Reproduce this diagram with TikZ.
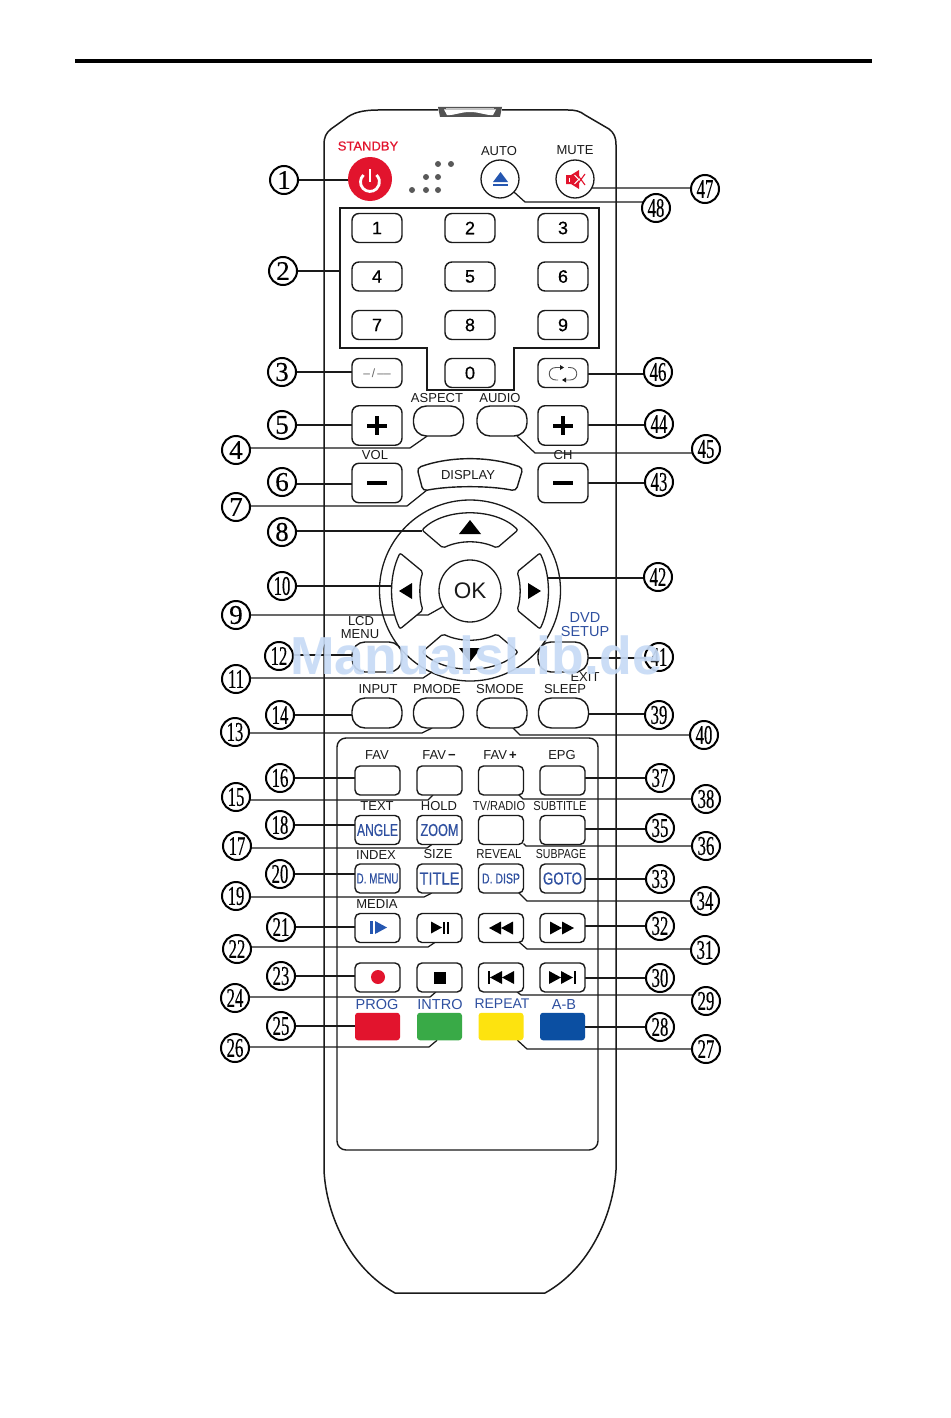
\documentclass[tikz,border=0pt]{standalone}
\usepackage{graphicx}
\usepackage{fontspec}
\setmainfont{Liberation Sans}
\newfontfamily\numf[FakeBold=0.35]{Liberation Serif}
\newfontfamily\semib[FakeBold=0.5]{Liberation Sans}
\usetikzlibrary{calc}
\pgfdeclarelayer{bg}
\pgfsetlayers{bg,main}
\definecolor{ink}{HTML}{1A1A1A}
\definecolor{tblue}{HTML}{2F50A0}
\definecolor{iblue}{HTML}{2456B0}
\definecolor{sred}{HTML}{E2142D}
\definecolor{wm}{HTML}{C7DBF6}
\tikzset{
  numc/.style={circle,draw=black,line width=2pt,fill=white,minimum size=28pt,inner sep=0pt,outer sep=0pt},
  lab/.style={inner sep=0pt,outer sep=0pt,text=ink,font=\fontsize{13}{13}\selectfont},
  bluelab/.style={lab,text=tblue,font=\fontsize{14.5}{15}\selectfont},
  key/.style={rectangle,draw=ink,line width=1.4pt,fill=white,rounded corners=7pt,minimum width=50pt,minimum height=29pt,inner sep=0pt,outer sep=0pt,font=\semib\fontsize{18}{18}\selectfont},
  bigkey/.style={key,minimum height=39.5pt},
  pill/.style={key,rounded corners=13pt,minimum height=30pt},
  gkey/.style={key,minimum width=45pt,minimum height=29pt,rounded corners=5pt},
  ckey/.style={rectangle,rounded corners=3pt,minimum width=45pt,minimum height=27.5pt,inner sep=0pt,outer sep=0pt},
  round/.style={circle,draw=ink,line width=1.3pt,fill=white,minimum size=38pt,inner sep=0pt,outer sep=0pt},
  conn/.style={line width=1.25pt,draw=ink},
  hull/.style={line width=1.5pt,draw=ink},
}
\newcount\lc
\newcommand\lbl[4][]{\global\advance\lc by 1\node[lab,#1] (t\the\lc) at (#2,#3) {#4};}
\newcommand\blbl[4][]{\global\advance\lc by 1\node[bluelab,#1] (t\the\lc) at (#2,#3) {#4};}
\newcommand\numc[3]{\node[numc] (n#1) at (#2,#3) {\numf\fontsize{27}{27}\selectfont\ifnum#1<10 #1\else\scalebox{0.62}[1]{#1}\fi};}
\newcommand\fitb[3]{\resizebox{#1pt}{#2pt}{#3}}
\newcommand\hl[3]{\draw[conn] (n#1 |- 0,#3) -- (#2 |- 0,#3);}
\newcommand\el[5]{\draw[conn] (n#1 |- 0,#3) -- (#2,#3) -- (#4);}
\begin{document}
\begin{tikzpicture}[x=1pt,y=-1pt]
\useasboundingbox (0,0) rectangle (950,1418);
\begin{pgfonlayer}{bg}
\fill[white] (0,0) rectangle (950,1418);
\end{pgfonlayer}
\coordinate (ruleL) at (75,61);
\coordinate (ruleR) at (872,61);
\draw[line width=3.4pt,black] (ruleL) -- (ruleR);

% body
\draw[hull] (438,110) -- (378,110) .. controls (362,110) and (352,113) .. (345,119) -- (331,129) .. controls (326,133) and (324,137) .. (324,145)
  -- (324,1170) .. controls (326,1215) and (350,1268) .. (395,1293) -- (545,1293) .. controls (590,1268) and (613,1215) .. (616,1170)
  -- (616,145) .. controls (616,137) and (614,133) .. (609,129) -- (585,115) .. controls (580,111) and (575,110) .. (568,110) -- (502,110);
\fill[gray!65!black] (438,107) -- (502,107) -- (500,117) -- (440,117) -- cycle;
\fill[white] (444,109.5) -- (496,109.5) -- (493,115) .. controls (485,115.5) and (480,112) .. (470,112) .. controls (460,112) and (455,115.5) .. (447,115) -- cycle;
\fill[gray!45] (446,107.6) rectangle (494,108.8);

% keypad panel
\draw[hull] (340,208) -- (599,208) -- (599,348) -- (514,348) -- (514,390) -- (427,390) -- (427,348) -- (340,348) -- cycle;
\coordinate (panL) at (340,271);
% lower panel
\node[draw=ink,line width=1.4pt,rounded corners=9pt,minimum width=261pt,minimum height=412pt,inner sep=0pt,outer sep=0pt] (panB) at (467.5,944) {};

% dots
\foreach \x/\y in {438/164,451/164,426/177,438/177,412/190,426/190,438/190}{\fill[gray!70!black] (\x,\y) circle (3);}

% top row
\lbl[text=sred,font=\semib\fontsize{13}{13}\selectfont]{368}{146}{STANDBY}
\node[circle,fill=sred,minimum size=44pt,inner sep=0pt,outer sep=0pt] (b1) at (370,179) {};
\draw[white,line width=2.8pt] (363.5,175) arc[start angle=227,end angle=-47,radius=9.5];
\draw[white,line width=2.8pt] (370,169) -- (370,182);
\lbl{499}{151}{AUTO}
\node[round] (b48) at (500,179) {};
\fill[iblue] (493,182) -- (500.5,172) -- (508,182) -- cycle;
\fill[iblue] (493,183.5) rectangle (508,185.5);
\lbl{575}{150}{MUTE}
\node[round] (b47) at (575,179) {};
\fill[sred] (566,175) -- (571,175) -- (579,170) -- (579,189) -- (571,184) -- (566,184) -- cycle;
\draw[white,line width=1pt] (569,177.5) -- (569,181.5);
\draw[white,line width=1pt] (574.5,175) -- (583,184);
\draw[white,line width=1pt] (574.5,184) -- (583,175);
\draw[sred,line width=1.1pt] (577,174) -- (585,185);
\draw[sred,line width=1.1pt] (577,185) -- (585,174);

% number keys
\node[key] (k1) at (377,228) {1};
\node[key] (k2) at (470,228) {2};
\node[key] (k3) at (563,228) {3};
\node[key] (k4) at (377,276.5) {4};
\node[key] (k5) at (470,276.5) {5};
\node[key] (k6) at (563,276.5) {6};
\node[key] (k7) at (377,325) {7};
\node[key] (k8) at (470,325) {8};
\node[key] (k9) at (563,325) {9};
\node[key] (k0) at (470,373) {0};
\node[key,text=gray!80!black,font=\fontsize{12}{12}\selectfont] (b3) at (377,373) {–\,/\,––};
\node[key] (b46) at (563,373) {};
\draw[gray!70!black,line width=.9pt] (560,367.5) -- (556,367.5) .. controls (547,367.5) and (547,380) .. (556,380) -- (558,380);
\draw[gray!70!black,line width=.9pt] (566,380) -- (570,380) .. controls (579,380) and (579,367.5) .. (570,367.5) -- (568,367.5);
\fill[ink] (564,367.5) -- (560,365) -- (560,370) -- cycle;
\fill[ink] (562,380) -- (566,377.5) -- (566,382.5) -- cycle;

% volume, channel and middle keys
\lbl{437}{398}{ASPECT}
\lbl{500}{398}{AUDIO}
\node[bigkey] (b5) at (377,425.5) {};
\node[bigkey] (b44) at (563,425.5) {};
\node[pill] (b4) at (438.5,421) {};
\node[pill] (b45) at (502,421) {};
\node[bigkey] (b6) at (377,483) {};
\node[bigkey] (b43) at (563,483) {};
\foreach \c in {377,563}{
  \fill[black] (\c-10,423.6) rectangle (\c+10,427.6);
  \fill[black] (\c-2,416) rectangle (\c+2,435);
  \fill[black] (\c-10,481.3) rectangle (\c+10,484.9);
}
\lbl{375}{455}{VOL}
\lbl{563}{455}{CH}
\draw[line width=1.4pt,draw=ink,rounded corners=4pt] (417,468) .. controls (450,456) and (490,456) .. (523,468) -- (516,491) .. controls (490,485.5) and (450,485.5) .. (423,491) -- cycle;
\coordinate (disp) at (427,490);
\lbl{468}{475}{DISPLAY}

% direction pad
\node[circle,draw=ink,line width=1.3pt,minimum size=181pt,inner sep=0pt,outer sep=0pt] (pad) at (470,590.5) {};
\node[circle,draw=ink,line width=1.3pt,minimum size=62pt,inner sep=0pt,outer sep=0pt,text=ink,font=\fontsize{22.5}{22}\selectfont] (b9) at (470,591) {OK};
\begin{scope}[shift={(470,591)}]
\foreach \r in {0,180}{
\begin{scope}[rotate=\r]
\draw[line width=1.3pt,draw=ink,fill=white,rounded corners=2pt] (-48,-61) .. controls (-25,-83.5) and (25,-83.5) .. (48,-61) -- (27,-43) .. controls (10,-51) and (-10,-51) .. (-27,-43) -- cycle;
\fill[black] (-11,-57) -- (0,-71) -- (11,-57) -- cycle;
\end{scope}}
\foreach \r in {0,180}{
\begin{scope}[rotate=\r]
\draw[line width=1.3pt,draw=ink,fill=white,rounded corners=2pt] (-70,-38) .. controls (-81,-15) and (-81,15) .. (-70,38) -- (-47,19) .. controls (-51,8) and (-51,-8) .. (-47,-19) -- cycle;
\fill[black] (-71,0) -- (-58,-8) -- (-58,8) -- cycle;
\end{scope}}
\coordinate (padU) at (-48,-60);
\coordinate (padD) at (-38,81);
\coordinate (padL) at (-78,-5);
\coordinate (padR) at (78,-13);
\end{scope}

% labels round the pad
\lbl{361}{621}{LCD}
\lbl{360}{634}{MENU}
\blbl{585}{618}{DVD}
\blbl{585}{632}{SETUP}
\lbl{585}{677}{EXIT}
\node[pill] (b12) at (377,657) {};
\node[pill] (b41) at (563,657) {};

% input row
\lbl{378}{689}{INPUT}
\lbl{437}{689}{PMODE}
\lbl{500}{689}{SMODE}
\lbl{565}{689}{SLEEP}
\node[pill] (b14) at (377,713) {};
\node[pill] (b13) at (438.5,713) {};
\node[pill] (b40) at (502,713) {};
\node[pill] (b39) at (563.5,713) {};

% grid labels
\lbl{377}{755}{FAV}
\lbl{439}{755}{FAV\,\textbf{−}}
\lbl{500}{755}{FAV\,\textbf{+}}
\lbl{562}{755}{EPG}
\lbl{377}{806}{TEXT}
\lbl{439}{806}{HOLD}
\lbl{499}{806}{\scalebox{.85}[1]{TV/RADIO}}
\lbl{560}{806}{\scalebox{.855}[1]{SUBTITLE}}
\lbl{376}{855}{INDEX}
\lbl{438}{854}{SIZE}
\lbl{499}{854}{\scalebox{.88}[1]{REVEAL}}
\lbl{561}{854}{\scalebox{.81}[1]{SUBPAGE}}
\lbl{377}{904}{MEDIA}
\blbl{377}{1004}{PROG}
\blbl{440}{1004}{INTRO}
\blbl[font=\fontsize{14}{14}\selectfont]{502}{1004}{REPEAT}
\blbl{564}{1004}{A-B}

% grid keys
\node[gkey] (b16) at (377.5,780.5) {};
\node[gkey] (b15) at (439.5,780.5) {};
\node[gkey] (b38) at (501,780.5) {};
\node[gkey] (b37) at (562.5,780.5) {};
\node[gkey,text=tblue] (b18) at (377.5,830) {\fitb{41}{12}{ANGLE}};
\node[gkey,text=tblue] (b17) at (439.5,830) {\fitb{38}{12}{ZOOM}};
\node[gkey] (b36) at (501,830) {};
\node[gkey] (b35) at (562.5,830) {};
\node[gkey,text=tblue] (b20) at (377.5,878.5) {\fitb{42}{10}{D. MENU}};
\node[gkey,text=tblue] (b19) at (439.5,878.5) {\fitb{40}{12}{TITLE}};
\node[gkey,text=tblue] (b34) at (501,878.5) {\fitb{38}{10}{D. DISP}};
\node[gkey,text=tblue] (b33) at (562.5,878.5) {\fitb{39}{12}{GOTO}};
\node[gkey] (b21) at (377.5,928) {};
\node[gkey] (b22) at (439.5,928) {};
\node[gkey] (b31) at (501,928) {};
\node[gkey] (b32) at (562.5,928) {};
\node[gkey] (b23) at (377.5,977.5) {};
\node[gkey] (b24) at (439.5,977.5) {};
\node[gkey] (b29) at (501,977.5) {};
\node[gkey] (b30) at (562.5,977.5) {};
\node[ckey,fill=sred] (b25) at (377.5,1026.5) {};
\node[ckey,fill={rgb,255:red,57;green,170;blue,71}] (b26) at (439.5,1026.5) {};
\node[ckey,fill={rgb,255:red,253;green,227;blue,15}] (b27) at (501,1026.5) {};
\node[ckey,fill={rgb,255:red,11;green,79;blue,162}] (b28) at (562.5,1026.5) {};

% grid icons
\fill[iblue] (370,921) rectangle (372.5,934);
\fill[iblue] (375,921) -- (387,927.5) -- (375,934) -- cycle;
\fill[black] (431,921.5) -- (442,927.5) -- (431,933.5) -- cycle;
\fill[black] (443,922) rectangle (445,933.5);
\fill[black] (447,922) rectangle (449,933.5);
\fill[black] (489,928) -- (501,921.5) -- (501,934.5) -- cycle;
\fill[black] (501,928) -- (513,921.5) -- (513,934.5) -- cycle;
\fill[black] (550,921.5) -- (562,928) -- (550,934.5) -- cycle;
\fill[black] (562,921.5) -- (574,928) -- (562,934.5) -- cycle;
\fill[sred] (378,977) circle (7);
\fill[black] (434,971.5) rectangle (446,984);
\fill[black] (488,971) rectangle (490,984);
\fill[black] (490,977.5) -- (502,971) -- (502,984) -- cycle;
\fill[black] (502,977.5) -- (514,971) -- (514,984) -- cycle;
\fill[black] (549,971) -- (561,977.5) -- (549,984) -- cycle;
\fill[black] (561,971) -- (573,977.5) -- (561,984) -- cycle;
\fill[black] (574,971) rectangle (576,984);

% numbered callouts
\numc{1}{284}{180}\numc{2}{283}{271}\numc{3}{282}{372}\numc{4}{236}{450}
\numc{5}{282}{425}\numc{6}{282}{482}\numc{7}{236}{507}\numc{8}{282}{532}
\numc{9}{236}{615}\numc{10}{282}{586}\numc{11}{236}{679}\numc{12}{279}{656}
\numc{13}{235}{732}\numc{14}{280}{715}\numc{15}{236}{797}\numc{16}{280}{778}
\numc{17}{237}{846}\numc{18}{280}{825}\numc{19}{236}{896}\numc{20}{280}{874}
\numc{21}{281}{927}\numc{22}{237}{949}\numc{23}{281}{976}\numc{24}{235}{998}
\numc{25}{281}{1026}\numc{26}{235}{1048}\numc{27}{706}{1049}\numc{28}{660}{1027}
\numc{29}{706}{1001}\numc{30}{660}{978}\numc{31}{705}{950}\numc{32}{660}{926}
\numc{33}{660}{879}\numc{34}{705}{901}\numc{35}{660}{828}\numc{36}{706}{846}
\numc{37}{660}{778}\numc{38}{706}{799}\numc{39}{659}{715}\numc{40}{704}{735}
\numc{41}{659}{657}\numc{42}{658}{577}\numc{43}{659}{482}\numc{44}{659}{424}
\numc{45}{706}{449}\numc{46}{658}{372}\numc{47}{705}{189}\numc{48}{656}{208}

% connectors
\begin{pgfonlayer}{bg}
\hl{1}{b1.west}{180}
\hl{2}{panL}{271}
\hl{3}{b3.west}{372}
\el{4}{410}{448}{b4.-127}{}
\hl{5}{b5.west}{425}
\hl{6}{b6.west}{484}
\el{7}{407}{506}{disp}{}
\hl{8}{padU}{531}
\el{9}{428}{615}{b9.210}{}
\hl{10}{padL}{586}
\el{11}{423}{678}{padD}{}
\hl{12}{b12.west}{655}
\el{13}{422}{733}{b13.-113}{}
\hl{14}{b14.west}{715}
\el{15}{428}{800}{b15.-114}{}
\hl{16}{b16.west}{778}
\el{17}{427}{848}{b17.-118}{}
\hl{18}{b18.west}{825}
\el{19}{424}{897}{b19.-118}{}
\hl{20}{b20.west}{874}
\hl{21}{b21.west}{927}
\el{22}{428}{947}{b22.-108}{}
\hl{23}{b23.west}{976}
\el{24}{430}{997}{b24.-104}{}
\hl{25}{b25.west}{1026}
\el{26}{429}{1047}{b26.-100}{}
\el{27}{527}{1049}{b27.-40}{}
\hl{28}{b28.east}{1027}
\el{29}{521}{995}{b29.-42}{}
\hl{30}{b30.east}{978}
\el{31}{527}{949}{b31.-38}{}
\hl{32}{b32.east}{926}
\hl{33}{b33.east}{879}
\el{34}{527}{901}{b34.-39}{}
\hl{35}{b35.east}{829}
\el{36}{526}{846}{b36.-31}{}
\hl{37}{b37.east}{778}
\el{38}{523}{799}{b38.-39}{}
\hl{39}{b39.east}{714}
\el{40}{520}{735}{b40.-54}{}
\hl{41}{b41.east}{658}
\hl{42}{padR}{578}
\hl{43}{b43.east}{483}
\hl{44}{b44.east}{425}
\el{45}{535}{453}{b45.-45}{}
\hl{46}{b46.east}{374}
\draw[conn] (n47 |- 0,188) -- (b47.-28);
\el{48}{525}{202}{b48.-43}{}
\end{pgfonlayer}

% watermark
\node[inner sep=0pt,outer sep=0pt,text=wm,opacity=.92,font=\fontsize{53.5}{53}\selectfont\bfseries] (mark) at (476,655) {ManualsLib.de};
\end{tikzpicture}
\end{document}
